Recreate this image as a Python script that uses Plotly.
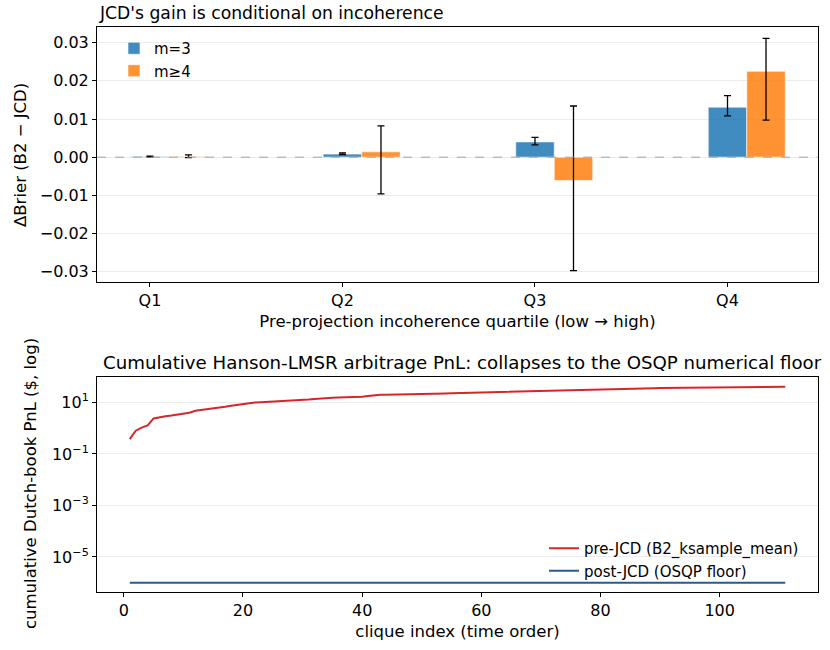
import plotly.graph_objects as go

# ---------------- data ----------------
quartiles = ["Q1", "Q2", "Q3", "Q4"]
m3_vals = [0.0002, 0.0008, 0.0040, 0.0131]
m3_lo = [0.0001, 0.0007, 0.0032, 0.0108]
m3_hi = [0.0003, 0.0011, 0.0052, 0.0161]
m4_vals = [0.0002, 0.0014, -0.0061, 0.0225]
m4_lo = [-0.0001, -0.0096, -0.0297, 0.0097]
m4_hi = [0.0006, 0.0082, 0.0134, 0.0311]

pre_jcd = [
    0.38, 0.80, 1.05, 1.30, 2.40, 2.70, 2.90, 3.10, 3.30, 3.60,
    4.00, 4.80, 5.10, 5.50, 5.90, 6.30, 6.80, 7.40, 8.00, 8.80,
    9.30, 9.90, 10.2, 10.5, 10.8, 11.0, 11.2, 11.4, 11.7, 12.3,
    13.0, 13.8, 14.5, 15.0, 15.3, 15.6, 15.8, 16.0, 16.3, 16.8,
    18.0, 19.2, 19.9, 20.0, 20.1, 20.2, 20.3, 20.4, 20.5, 20.6,
    21.0, 21.5, 22.0, 22.5, 23.0, 23.3, 23.6, 24.0, 24.4, 24.8,
    25.2, 25.6, 26.0, 26.5, 27.0, 27.6, 28.4, 29.0, 29.3, 29.6,
    29.9, 30.1, 30.3, 30.5, 30.8, 31.2, 31.8, 32.5, 33.0, 33.3,
    33.6, 33.9, 34.2, 34.5, 34.8, 35.1, 35.4, 35.7, 36.0, 36.2,
    36.4, 36.6, 36.8, 37.0, 37.2, 37.4, 37.6, 37.8, 38.0, 38.2,
    38.4, 38.6, 38.8, 39.0, 39.2, 39.4, 39.6, 39.8, 40.0, 40.2,
    40.5,
]
post_jcd = [1e-6] * len(pre_jcd)
clique_idx = list(range(1, len(pre_jcd) + 1))

log_ticks = [10, 0.1, 1e-3, 1e-5]
log_tick_text = ["10<sup>1</sup>", "10<sup>−1</sup>", "10<sup>−3</sup>", "10<sup>−5</sup>"]
lin_ticks = [-0.03, -0.02, -0.01, 0.0, 0.01, 0.02, 0.03]
lin_tick_text = ["−0.03", "−0.02", "−0.01", "0.00", "0.01", "0.02", "0.03"]

# ---------------- figure ----------------
FONT = "DejaVu Sans"
TICK = 16
LABEL = 16.5
TITLE1 = 17.2
TITLE2 = 18.2
LEG = 15
fig = go.Figure()

def errs(vals, lo, hi):
    return [h - v for v, h in zip(vals, hi)], [v - l for v, l in zip(vals, lo)]

p3, n3 = errs(m3_vals, m3_lo, m3_hi)
p4, n4 = errs(m4_vals, m4_lo, m4_hi)

fig.add_trace(go.Bar(
    x=quartiles, y=m3_vals, name="m=3", width=0.2, offset=-0.1,
    marker=dict(color="rgba(31,119,180,0.85)", line=dict(color="white", width=0.6)),
    error_y=dict(type="data", symmetric=False, array=p3, arrayminus=n3,
                 color="black", thickness=1.3, width=3.5),
    xaxis="x", yaxis="y", legend="legend",
))
fig.add_trace(go.Bar(
    x=quartiles, y=m4_vals, name="m≥4", width=0.2, offset=0.1,
    marker=dict(color="rgba(255,127,14,0.85)", line=dict(color="white", width=0.6)),
    error_y=dict(type="data", symmetric=False, array=p4, arrayminus=n4,
                 color="black", thickness=1.3, width=3.5),
    xaxis="x", yaxis="y", legend="legend",
))

fig.add_trace(go.Scatter(
    x=clique_idx, y=pre_jcd, mode="lines", name="pre-JCD (B2_ksample_mean)",
    line=dict(color="#d62728", width=2), xaxis="x2", yaxis="y2", legend="legend2",
))
fig.add_trace(go.Scatter(
    x=clique_idx, y=post_jcd, mode="lines", name="post-JCD (OSQP floor)",
    line=dict(color="#2b5b8a", width=2), xaxis="x2", yaxis="y2", legend="legend2",
))

fig.add_shape(type="line", xref="x domain", yref="y", x0=0, x1=1, y0=0, y1=0,
              line=dict(color="#999999", width=0.9, dash="dash"))

axis_common = dict(showline=True, linecolor="black", linewidth=1, mirror=True,
                   ticks="outside", ticklen=4, tickwidth=1, tickcolor="black",
                   tickfont=dict(family=FONT, size=TICK, color="black"),
                   zeroline=False, automargin=False)

X0, X1 = 97 / 830, 818 / 830
fig.update_layout(
    template="none",
    width=830, height=650,
    margin=dict(l=0, r=0, t=0, b=0, autoexpand=False),
    paper_bgcolor="white", plot_bgcolor="white",
    barmode="overlay",
    font=dict(family=FONT, size=LABEL, color="black"),
    xaxis=dict(domain=[X0, X1], anchor="y", type="category",
               categoryorder="array", categoryarray=quartiles,
               range=[-0.275, 3.47], showgrid=False,
               title=dict(text="Pre-projection incoherence quartile (low → high)",
                          font=dict(family=FONT, size=LABEL), standoff=6),
               **axis_common),
    yaxis=dict(domain=[1 - 282 / 650, 1 - 27 / 650], anchor="x",
               range=[-0.0327, 0.0341], tickvals=lin_ticks, ticktext=lin_tick_text,
               showgrid=True, gridcolor="#ebebeb", gridwidth=0.8,
               **axis_common),
    xaxis2=dict(domain=[X0, X1], anchor="y2", range=[-4.5, 116.5],
                tickvals=[0, 20, 40, 60, 80, 100], showgrid=False,
                title=dict(text="clique index (time order)",
                           font=dict(family=FONT, size=LABEL), standoff=6),
                **axis_common),
    yaxis2=dict(domain=[1 - 592 / 650, 1 - 377 / 650], anchor="x2", type="log",
                range=[-6.36, 1.99], tickvals=log_ticks, ticktext=log_tick_text,
                showgrid=True, gridcolor="#ebebeb", gridwidth=0.8,
                **axis_common),
    legend=dict(x=114 / 830, y=1 - 32 / 650, xanchor="left", yanchor="top",
                bgcolor="rgba(255,255,255,0)", font=dict(family=FONT, size=LEG),
                tracegroupgap=4),
    legend2=dict(x=544 / 830, y=1 - 532 / 650, xanchor="left", yanchor="top",
                 bgcolor="rgba(255,255,255,0)", font=dict(family=FONT, size=LEG),
                 tracegroupgap=4),
    annotations=[
        dict(text="JCD's gain is conditional on incoherence", x=X0, y=1 - 13 / 650,
             xref="paper", yref="paper", xanchor="left", yanchor="middle",
             showarrow=False, font=dict(family=FONT, size=TITLE1)),
        dict(text="Cumulative Hanson-LMSR arbitrage PnL: collapses to the OSQP numerical floor",
             x=462 / 830, y=1 - 362 / 650, xref="paper", yref="paper",
             xanchor="center", yanchor="middle", showarrow=False,
             font=dict(family=FONT, size=TITLE2)),
        dict(text="ΔBrier (B2 − JCD)", x=20 / 830, y=1 - 155 / 650, xref="paper",
             yref="paper", xanchor="center", yanchor="middle", textangle=-90,
             showarrow=False, font=dict(family=FONT, size=LABEL)),
        dict(text="cumulative Dutch-book PnL ($, log)", x=31 / 830, y=1 - 484 / 650,
             xref="paper", yref="paper", xanchor="center", yanchor="middle",
             textangle=-90, showarrow=False, font=dict(family=FONT, size=LABEL)),
    ],
)

fig.write_html("out.html", config={"displayModeBar": False},
               post_script="document.body.style.margin='0';document.body.style.padding='0';")
